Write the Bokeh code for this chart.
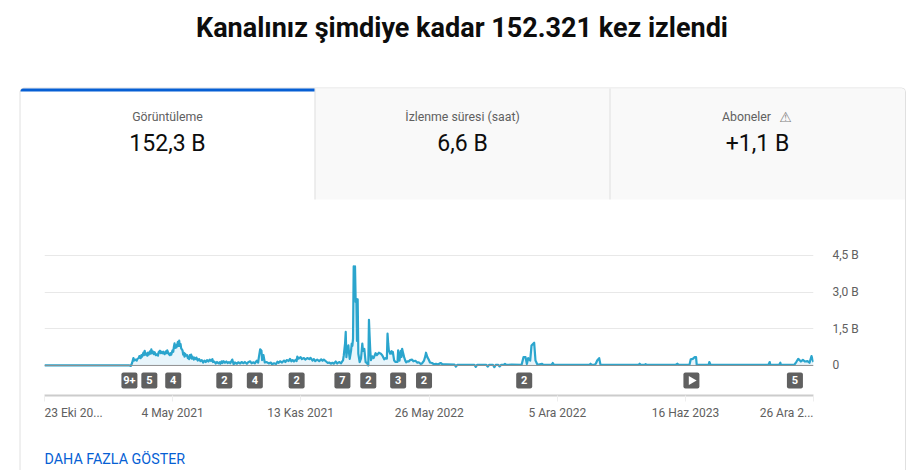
from math import pi
from bokeh.plotting import figure
from bokeh.layouts import column
from bokeh.models import Span, FixedTicker
from bokeh.core.properties import value
from bokeh.embed import file_html
from bokeh.resources import INLINE

title_text = "Kanalınız şimdiye kadar 152.321 kez izlendi"
tab_names = ["Görüntüleme", "İzlenme süresi (saat)", "Aboneler"]
tab_values = ["152,3 B", "6,6 B", "+1,1 B"]
more_text = "DAHA FAZLA GÖSTER"

series = [
    (0, 0), (128, 0), (130, -.02), (132, .1), (134, .3), (135, .2), (137, .24), (139, .2), (140, .27), (142, .3), (143, .38),
    (145, .3), (146, .42), (147, .36), (149, .52), (150, .42), (151, .6), (152, .44), (153, .5), (155, .4), (156, .52), (157, .44),
    (159, .58), (160, .48), (161, .66), (162, .5), (163, .58), (165, .46), (166, .54), (168, .42), (170, .46), (171, .4),
    (172, .54), (174, .6), (175, .5), (176, .56), (178, .5), (179, .56), (181, .46), (183, .58), (184, .5), (185, .62),
    (187, .48), (189, .42), (190, .5), (191, .44), (193, .62), (194, .56), (195, .76), (196, .9), (197, .72), (198, .82), (199, .74),
    (201, .96), (202, .8), (203, 1.02), (204, .8), (205, .88), (206, .7), (208, .62), (209, .44), (210, .52), (211, .36), (212, .48), (213, .4),
    (215, .42), (216, .3), (217, .34), (218, .26), (219, .42), (220, .32), (221, .44), (222, .28), (223, .36), (225, .24), (226, .32), (228, .26),
    (229, .32), (231, .2), (233, .26), (235, .18), (237, .22), (239, .12), (241, .2), (243, .14), (245, .22), (247, .16), (249, .24), (251, .18), (253, .26),
    (254, .14), (256, .16), (258, .08), (260, .14), (262, .09), (264, .13), (265, .07), (267, .17), (268, .1), (270, .17), (272, .11), (274, .16), (276, .1),
    (278, .14), (280, .09), (283, .24), (285, .05), (287, .12), (290, .07), (292, .13), (295, .08), (297, .14), (300, .09), (302, .14), (305, .07),
    (307, .13), (310, .17), (312, .09), (315, .13), (317, .09), (320, .2), (322, .12), (323, .32), (325, .66), (327, .6), (328, .22), (330, .42),
    (332, .12), (335, .14), (338, .08), (341, .12), (343, .05), (346, .09), (349, .06), (351, .15), (353, .11), (355, .17), (358, .12), (361, .2), (363, .14),
    (365, .22), (368, .18), (370, .27), (372, .17), (374, .22), (376, .16), (379, .24), (380, .18), (381, .36), (383, .28), (386, .34), (388, .26),
    (391, .3), (393, .24), (396, .3), (399, .26), (401, .31), (404, .2), (406, .26), (408, .18), (411, .24), (414, .18), (417, .25), (419, .19), (421, .24),
    (424, .17), (427, .1), (429, .12), (432, .07), (434, .11), (436, .07),
    (439, .16), (441, .08), (444, .14), (447, .09), (450, .22), (451, .4), (453, .9), (454, 1.37), (455, .34), (456, .6), (458, .82), (459, .5), (460, .27),
    (462, .6), (463, .89), (464, .8), (465, 1.1), (466, 4.05), (467, 2.9), (468, 4.05), (469, 2.6), (470, 2.73), (471, 1.0), (472, 2.7), (473, .48), (475, .14), (477, .28),
    (479, .89), (480, .6), (482, .68), (484, .14), (486, .1), (488, 0), (489, 1.87), (490, 1.2), (491, .6), (492, .22), (494, .37), (496, .3), (499, .5), (501, .42), (504, .52), (507, .48),
    (509, .42), (512, .25), (514, .3), (516, .28), (517, 1.3), (518, .9), (519, .61), (521, .48), (523, .58), (524, .48), (525, .55), (527, .2), (529, .14), (532, .14), (533, .62),
    (534, .4), (535, .2), (537, .6), (538, .35), (539, .68), (540, .56), (542, .34), (544, .18), (545, .13), (547, .17), (549, .16), (551, .22), (554, .24), (556, .17),
    (559, .19), (562, .11), (564, .13), (567, .06), (569, .08), (572, .2), (574, .38), (575, .52), (577, .34), (579, .24), (581, .12), (584, .1), (587, .05), (590, .07), (593, .04), (597, .1), (600, .04), (605, .04), (618, .03),
    (620, -.05), (622, .02), (648, .02), (650, -.06), (652, .02), (666, .02), (668, -.05), (670, .02), (676, .02),
    (678, -.07), (680, .02), (684, .02), (686, -.04), (688, .02), (692, .02), (694, .06), (696, .02), (704, .03),
    (719, .02), (722, .34), (725, .34), (727, .06), (729, .3), (732, .2), (734, .82), (738, .93), (740, .2),
    (743, .03), (750, .07), (752, .02), (764, .02), (766, .1), (768, .02), (821, .02), (823, .07), (825, .02),
    (829, .02), (831, .08), (833, .2), (836, .3), (838, .02), (895, .02), (897, .07), (899, .02), (904, .02),
    (906, .05), (908, .02), (951, .02), (954, .07), (956, .02), (972, .02), (974, .25), (977, .27), (980, .34),
    (982, .34), (983, .02), (1001, .02), (1002, .14), (1004, .02), (1091, .02), (1093, .14), (1094, .02),
    (1107, .02), (1109, .11), (1110, .02), (1130, .02), (1133, .14), (1136, .27), (1140, .16), (1143, .23),
    (1146, .16), (1150, .18), (1153, .11), (1156, .38), (1158, .2), (1159, .14),
]
days = [d for d, v in series]
views = [v for d, v in series]

y_ticks = [0, 1.5, 3, 4.5]
y_labels = {0: "0", 1.5: "1,5 B", 3: "3,0 B", 4.5: "4,5 B"}
x_ticks = [0, 193, 386, 580, 773, 966, 1159]
x_labels = ["23 Eki 20...", "4 May 2021", "13 Kas 2021", "26 May 2022", "5 Ara 2022", "16 Haz 2023", "26 Ara 2..."]
badge_days = [128, 158, 194, 271, 317, 380, 449, 488, 533, 572, 723, 975, 1131]
badge_texts = ["9+", "5", "4", "2", "4", "2", "7", "2", "3", "2", "2", "", "5"]
play_days = [975]

W, H = 907, 470
FONT = "Roboto"
FL, FB = 44, 395

# page furniture: title, tabs and card, on a figure whose frame fills the page
bg = figure(width=W, height=H, output_backend="svg", toolbar_location=None,
            x_range=(0, W), y_range=(H, 0), x_axis_type=None, y_axis_type=None,
            min_border=0, min_border_left=0, min_border_right=0, min_border_top=0, min_border_bottom=0)
bg.outline_line_color = None
bg.grid.visible = False


def box(x0, y0, x1, y1, fill, line=None, **kw):
    bg.quad(left=[x0], right=[x1], top=[y0], bottom=[y1], fill_color=fill, line_color=line, line_width=1, **kw)


def label(x, y, text, size, color="#606060", align="center", style="normal", font=FONT):
    bg.text([x], [y], text=[text], text_font=value(font), text_font_size=f"{size}px", text_color=color,
            text_align=align, text_baseline="middle", text_font_style=style)


box(19.5, 87.5, 905, 480, "white", "#e0e0e0", border_radius=4)
box(314, 88, 904.5, 199, "#f9f9f9", border_radius=(0, 4, 0, 0))
box(314, 88, 315, 199, "#e0e0e0")
box(609, 88, 610, 199, "#e0e0e0")
box(20, 88, 314, 91, "#065fd4", border_radius=(3, 0, 0, 0))

label(461.5, 27, title_text, 27, "#0d0d0d", style="bold")
label(167, 116, tab_names[0], 12.3)
label(462, 116, tab_names[1], 12.3)
label(746, 116, tab_names[2], 12.3)
label(785, 116, "⚠", 14, "#808080", font="DejaVu Sans")
label(167, 143, tab_values[0], 23, "#0d0d0d")
label(462, 143, tab_values[1], 23, "#0d0d0d")
label(757, 143, tab_values[2], 23, "#0d0d0d")
label(44, 458, more_text, 14.3, "#065fd4", align="left")
label(44, 412, x_labels[0], 12, align="left")
label(813, 412, x_labels[-1], 12, align="right")

# the chart itself, transparent, laid over the page figure
p = figure(width=W, height=H, output_backend="svg", toolbar_location=None,
           x_range=(0, 1159), y_range=(-1.23, 4.54), y_axis_location="right",
           min_border_left=FL, min_border_right=W - 813, min_border_top=254, min_border_bottom=H - FB)
p.outline_line_color = None
p.background_fill_color = None
p.border_fill_color = None

p.xgrid.visible = False
p.ygrid.ticker = FixedTicker(ticks=y_ticks)
p.ygrid.grid_line_color = "#e8e8e8"
p.ygrid.grid_line_width = 1

ax = p.yaxis[0]
ax.ticker = FixedTicker(ticks=y_ticks)
ax.major_label_overrides = y_labels
ax.axis_line_color = None
ax.major_tick_line_color = None
ax.minor_tick_line_color = None
ax.major_label_standoff = 13
ax.major_label_text_font = FONT
ax.major_label_text_font_size = "12px"
ax.major_label_text_color = "#606060"

bx = p.xaxis[0]
bx.ticker = FixedTicker(ticks=x_ticks)
bx.major_label_overrides = {t: ("" if i in (0, len(x_ticks) - 1) else x_labels[i]) for i, t in enumerate(x_ticks)}
bx.axis_line_color = "#cccccc"
bx.axis_line_width = 2
bx.major_tick_line_color = "#eeeeee"
bx.major_tick_line_width = 1
bx.major_tick_in = 0
bx.major_tick_out = 6
bx.minor_tick_line_color = None
bx.major_label_standoff = 4
bx.major_label_text_font = FONT
bx.major_label_text_font_size = "12px"
bx.major_label_text_color = "#606060"

p.varea(days, y1=[0] * len(days), y2=views, fill_color="#e8f5fb")
p.add_layout(Span(location=0, dimension="width", line_color="#909090", line_width=1, level="glyph"))
p.line(days, views, line_color="#2ba5cd", line_width=2.2, line_join="round")

by = [-0.615] * len(badge_days)
p.rect(badge_days, by, width=16, height=16, width_units="screen", height_units="screen",
       fill_color="#606060", line_color=None, border_radius=2)
p.text(badge_days, by, text=badge_texts, text_color="white", text_font=value(FONT), text_font_style="bold",
       text_font_size="11px", text_align="center", text_baseline="middle")
p.scatter(play_days, [-0.615], marker="triangle", size=9, angle=-pi / 2, fill_color="white", line_color=None)

page = column(bg, column(p, margin=(-H, 0, 0, 0)), spacing=0)
open("out.html", "w").write(file_html(page, INLINE))
